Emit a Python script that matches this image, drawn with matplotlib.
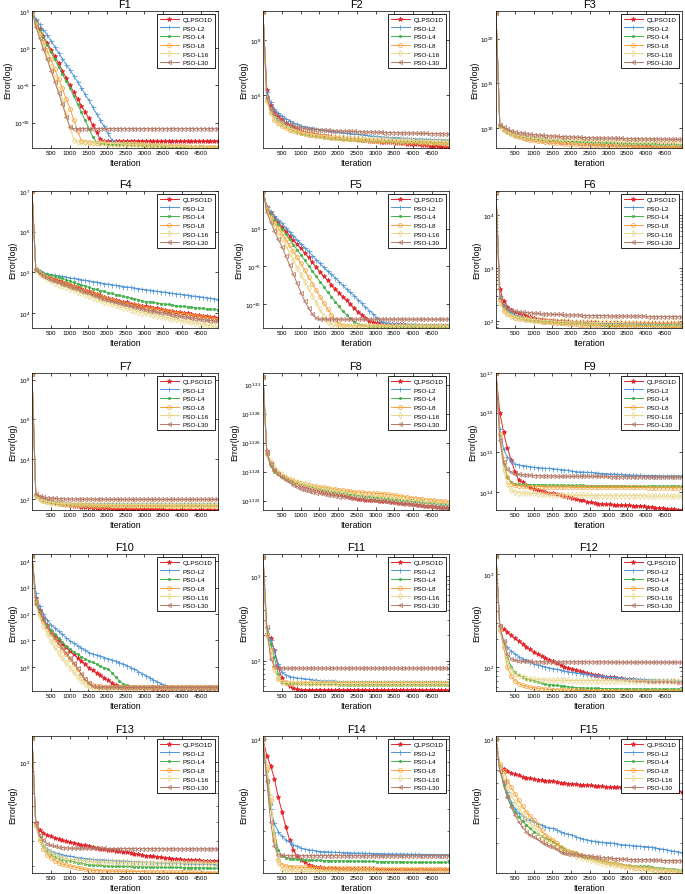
import numpy as np
import matplotlib
matplotlib.use('Agg')
import matplotlib.pyplot as plt
from matplotlib.ticker import NullLocator, LogLocator, NullFormatter

plt.rcParams['font.family'] = ['Liberation Sans', 'DejaVu Sans']
plt.rcParams['mathtext.fontset'] = 'custom'
plt.rcParams['mathtext.rm'] = 'Liberation Sans'
plt.rcParams['mathtext.it'] = 'Liberation Sans:italic'
plt.rcParams['mathtext.bf'] = 'Liberation Sans:bold'

ITERATIONS = np.linspace(0, 4960, 50)
X_TICKS = [500, 1000, 1500, 2000, 2500, 3000, 3500, 4000, 4500]
ALGORITHMS = ['QLPSO1D', 'PSO-L2', 'PSO-L4', 'PSO-L8', 'PSO-L16', 'PSO-L30']

# ---- all values are log10(error), one value per 100 iterations ----
F1_QLPSO1D = [5.0, 3.6, 2.6, 1.6, 0.7, -0.2, -1.1, -2.0, -3.0, -4.0,
              -5.0, -5.9, -6.8, -7.7, -8.6, -9.4, -10.3, -11.3, -12.2, -12.5] + [-12.5] * 30
F1_L2 = [5.0, 3.9, 3.2, 2.5, 1.8, 1.0, 0.2, -0.6, -1.4, -2.2,
         -2.9, -3.7, -4.5, -5.3, -6.2, -7.0, -7.9, -8.8, -9.6, -10.5,
         -11.4, -12.3, -12.6, -12.7, -12.7, -12.8, -12.8, -12.9, -12.9, -12.9,
         -13.0, -13.0, -13.0, -13.0, -13.1, -13.1, -13.1, -13.1, -13.2, -13.2,
         -13.2, -13.2, -13.2, -13.3, -13.3, -13.3, -13.3, -13.3, -13.4, -13.4]
F1_L4 = [5.0, 3.5, 2.5, 1.5, 0.5, -0.5, -1.5, -2.5, -3.5, -4.4,
         -5.4, -6.4, -7.5, -8.6, -9.7, -10.8, -11.9, -12.6, -12.7, -12.7,
         -12.8, -12.8, -12.8, -12.8, -12.9, -12.9, -12.9, -12.9, -13.0, -13.0,
         -13.0, -13.0, -13.0, -13.1, -13.1, -13.1, -13.1, -13.1, -13.2, -13.2,
         -13.2, -13.2, -13.2, -13.2, -13.3, -13.3, -13.3, -13.3, -13.3, -13.3]
F1_L8 = [5.0, 3.3, 2.1, 0.9, -0.3, -1.5, -2.8, -4.1, -5.4, -6.8,
         -8.1, -9.6, -11.1, -12.4, -12.6, -12.6, -12.7, -12.7, -12.7, -12.7,
         -12.8, -12.8, -12.8, -12.8, -12.8, -12.9, -12.9, -12.9, -12.9, -12.9,
         -13.0, -13.0, -13.0, -13.0, -13.0, -13.1, -13.1, -13.1, -13.1, -13.1,
         -13.1, -13.2, -13.2, -13.2, -13.2, -13.2, -13.2, -13.3, -13.3, -13.3]
F1_L16 = [5.0, 3.1, 1.7, 0.3, -1.1, -2.5, -4.0, -5.5, -7.1, -8.8,
          -10.6, -12.3, -12.6, -12.6, -12.6, -12.7, -12.7, -12.7, -12.7, -12.7,
          -12.8, -12.8, -12.8, -12.8, -12.9, -12.9, -12.9, -12.9, -13.0, -13.0,
          -13.0, -13.0, -13.1, -13.1, -13.1, -13.1, -13.2, -13.2, -13.2, -13.2,
          -13.2, -13.3, -13.3, -13.3, -13.3, -13.3, -13.4, -13.4, -13.4, -13.4]
F1_L30 = [5.0, 2.9, 1.4, -0.1, -1.5, -3.0, -4.5, -6.0, -7.5, -9.2,
          -10.6] + [-10.8] * 39

F2_QLPSO1D = [9.0, 6.2, 5.65, 5.4, 5.25, 5.12, 5.0, 4.92, 4.85, 4.77,
              4.7, 4.67, 4.64, 4.61, 4.58, 4.56, 4.54, 4.51, 4.49, 4.47,
              4.45, 4.44, 4.43, 4.41, 4.4, 4.39, 4.37, 4.36, 4.35, 4.33,
              4.32, 4.31, 4.3, 4.29, 4.28, 4.27, 4.26, 4.25, 4.24, 4.23,
              4.22, 4.21, 4.19, 4.18, 4.17, 4.16, 4.14, 4.13, 4.12, 4.1]
F2_L2 = [9.0, 6.1, 5.75, 5.5, 5.35, 5.25, 5.15, 5.07, 5.0, 4.94,
         4.89, 4.85, 4.82, 4.79, 4.76, 4.74, 4.72, 4.7, 4.68, 4.66,
         4.65, 4.63, 4.61, 4.6, 4.58, 4.57, 4.55, 4.54, 4.52, 4.51,
         4.5, 4.49, 4.48, 4.47, 4.46, 4.46, 4.45, 4.44, 4.43, 4.43,
         4.42, 4.41, 4.41, 4.4, 4.4, 4.39, 4.39, 4.38, 4.38, 4.37]
F2_L4 = [9.0, 5.9, 5.45, 5.2, 5.05, 4.95, 4.87, 4.8, 4.73, 4.66,
         4.6, 4.57, 4.54, 4.52, 4.5, 4.48, 4.46, 4.45, 4.43, 4.42,
         4.41, 4.4, 4.39, 4.38, 4.37, 4.37, 4.36, 4.35, 4.35, 4.34,
         4.34, 4.33, 4.33, 4.32, 4.32, 4.31, 4.31, 4.3, 4.3, 4.3,
         4.29, 4.29, 4.28, 4.28, 4.28, 4.27, 4.27, 4.27, 4.26, 4.26]
F2_L8 = [9.0, 5.8, 5.35, 5.1, 4.97, 4.87, 4.8, 4.74, 4.69, 4.65,
         4.62, 4.59, 4.56, 4.54, 4.52, 4.5, 4.48, 4.47, 4.45, 4.44,
         4.43, 4.42, 4.41, 4.4, 4.39, 4.38, 4.37, 4.37, 4.36, 4.35,
         4.34, 4.34, 4.33, 4.32, 4.32, 4.31, 4.3, 4.3, 4.29, 4.29,
         4.28, 4.28, 4.27, 4.27, 4.26, 4.26, 4.25, 4.25, 4.24, 4.24]
F2_L16 = [9.0, 5.8, 5.4, 5.15, 5.0, 4.92, 4.85, 4.79, 4.74, 4.7,
          4.66, 4.63, 4.6, 4.58, 4.56, 4.54, 4.53, 4.51, 4.5, 4.49,
          4.48, 4.47, 4.46, 4.45, 4.44, 4.44, 4.43, 4.42, 4.42, 4.41,
          4.41, 4.4, 4.4, 4.39, 4.39, 4.38, 4.38, 4.37, 4.37, 4.36,
          4.36, 4.35, 4.35, 4.35, 4.34, 4.34, 4.33, 4.33, 4.33, 4.32]
F2_L30 = [9.0, 5.9, 5.5, 5.3, 5.17, 5.07, 5.0, 4.94, 4.89, 4.85,
          4.81, 4.79, 4.77, 4.76, 4.75, 4.74, 4.73, 4.72, 4.71, 4.7,
          4.7, 4.69, 4.69, 4.68, 4.68, 4.67, 4.67, 4.66, 4.66, 4.66,
          4.65, 4.65, 4.64, 4.64, 4.64, 4.63, 4.63, 4.63, 4.62, 4.62,
          4.62, 4.61, 4.61, 4.61, 4.6, 4.6, 4.6, 4.6, 4.59, 4.59]

F3_QLPSO1D = [22.9, 10.4, 9.95, 9.65, 9.45, 9.28, 9.15, 9.04, 8.95, 8.88,
              8.81, 8.75, 8.7, 8.66, 8.62, 8.58, 8.55, 8.52, 8.49, 8.46,
              8.44, 8.42, 8.4, 8.38, 8.36, 8.34, 8.32, 8.31, 8.29, 8.28,
              8.26, 8.25, 8.24, 8.22, 8.21, 8.2, 8.19, 8.18, 8.17, 8.16,
              8.15, 8.14, 8.13, 8.12, 8.11, 8.1, 8.09, 8.08, 8.07, 8.06]
F3_L2 = [22.9, 10.3, 9.95, 9.7, 9.5, 9.35, 9.22, 9.12, 9.03, 8.96,
         8.9, 8.84, 8.79, 8.75, 8.71, 8.67, 8.64, 8.61, 8.58, 8.55,
         8.52, 8.5, 8.47, 8.45, 8.43, 8.41, 8.39, 8.37, 8.35, 8.34,
         8.32, 8.31, 8.29, 8.28, 8.26, 8.25, 8.24, 8.23, 8.22, 8.21,
         8.2, 8.19, 8.18, 8.17, 8.16, 8.15, 8.14, 8.13, 8.12, 8.11]
F3_L4 = [22.9, 10.3, 9.9, 9.62, 9.42, 9.27, 9.15, 9.05, 8.97, 8.9,
         8.84, 8.79, 8.75, 8.71, 8.67, 8.64, 8.61, 8.58, 8.55, 8.53,
         8.5, 8.48, 8.46, 8.44, 8.42, 8.4, 8.39, 8.37, 8.36, 8.34,
         8.33, 8.32, 8.3, 8.29, 8.28, 8.27, 8.26, 8.25, 8.24, 8.23,
         8.22, 8.21, 8.2, 8.19, 8.19, 8.18, 8.17, 8.16, 8.16, 8.15]
F3_L8 = [22.9, 10.3, 9.85, 9.55, 9.32, 9.15, 9.01, 8.9, 8.8, 8.72,
         8.65, 8.59, 8.53, 8.48, 8.44, 8.4, 8.36, 8.33, 8.3, 8.27,
         8.24, 8.22, 8.19, 8.17, 8.15, 8.13, 8.11, 8.1, 8.08, 8.06,
         8.05, 8.03, 8.02, 8.01, 7.99, 7.98, 7.97, 7.96, 7.95, 7.94,
         7.93, 7.92, 7.91, 7.9, 7.9, 7.89, 7.88, 7.87, 7.86, 7.85]
F3_L16 = [22.9, 10.3, 9.9, 9.65, 9.45, 9.3, 9.18, 9.08, 9.0, 8.94,
          8.88, 8.84, 8.8, 8.77, 8.74, 8.72, 8.7, 8.68, 8.66, 8.64,
          8.63, 8.61, 8.6, 8.59, 8.58, 8.56, 8.55, 8.54, 8.53, 8.52,
          8.51, 8.5, 8.49, 8.48, 8.47, 8.46, 8.46, 8.45, 8.44, 8.43,
          8.42, 8.42, 8.41, 8.4, 8.4, 8.39, 8.38, 8.38, 8.37, 8.37]
F3_L30 = [22.9, 10.4, 10.1, 9.9, 9.75, 9.62, 9.52, 9.45, 9.38, 9.33,
          9.28, 9.24, 9.2, 9.17, 9.14, 9.12, 9.1, 9.08, 9.06, 9.04,
          9.02, 9.0, 8.99, 8.97, 8.96, 8.95, 8.93, 8.92, 8.91, 8.9,
          8.89, 8.88, 8.87, 8.86, 8.85, 8.84, 8.84, 8.83, 8.82, 8.81,
          8.81, 8.8, 8.79, 8.79, 8.78, 8.77, 8.77, 8.76, 8.76, 8.75]

F4_QLPSO1D = [7.0, 5.07, 5.0, 4.95, 4.9, 4.86, 4.83, 4.79, 4.76, 4.73,
              4.7, 4.67, 4.63, 4.6, 4.57, 4.54, 4.5, 4.47, 4.44, 4.4,
              4.37, 4.35, 4.32, 4.3, 4.28, 4.26, 4.23, 4.21, 4.19, 4.18,
              4.16, 4.14, 4.12, 4.11, 4.09, 4.08, 4.06, 4.05, 4.03, 4.02,
              4.0, 3.99, 3.97, 3.96, 3.95, 3.93, 3.92, 3.91, 3.89, 3.88]
F4_L2 = [7.0, 5.07, 5.02, 4.99, 4.96, 4.94, 4.93, 4.91, 4.9, 4.88,
         4.86, 4.85, 4.83, 4.82, 4.8, 4.79, 4.77, 4.76, 4.74, 4.72,
         4.71, 4.7, 4.68, 4.67, 4.65, 4.64, 4.63, 4.61, 4.6, 4.58,
         4.57, 4.56, 4.55, 4.53, 4.52, 4.51, 4.5, 4.48, 4.47, 4.46,
         4.45, 4.44, 4.42, 4.41, 4.4, 4.39, 4.37, 4.36, 4.35, 4.33]
F4_L4 = [7.0, 5.07, 5.02, 4.98, 4.95, 4.93, 4.91, 4.88, 4.85, 4.82,
         4.78, 4.75, 4.72, 4.69, 4.66, 4.63, 4.6, 4.58, 4.55, 4.53,
         4.5, 4.48, 4.45, 4.43, 4.41, 4.39, 4.37, 4.35, 4.33, 4.3,
         4.28, 4.27, 4.26, 4.24, 4.23, 4.22, 4.21, 4.19, 4.18, 4.17,
         4.16, 4.15, 4.14, 4.13, 4.12, 4.11, 4.1, 4.1, 4.09, 4.08]
F4_L8 = [7.0, 5.07, 4.99, 4.94, 4.89, 4.85, 4.81, 4.78, 4.74, 4.71,
         4.68, 4.65, 4.61, 4.58, 4.55, 4.51, 4.48, 4.45, 4.42, 4.38,
         4.35, 4.33, 4.3, 4.28, 4.25, 4.23, 4.21, 4.19, 4.17, 4.15,
         4.13, 4.12, 4.1, 4.08, 4.07, 4.05, 4.04, 4.02, 4.01, 3.99,
         3.98, 3.96, 3.95, 3.93, 3.92, 3.9, 3.89, 3.87, 3.86, 3.84]
F4_L16 = [7.0, 5.05, 4.96, 4.9, 4.84, 4.78, 4.74, 4.7, 4.66, 4.63,
          4.6, 4.56, 4.52, 4.49, 4.45, 4.42, 4.38, 4.35, 4.31, 4.28,
          4.25, 4.22, 4.19, 4.16, 4.13, 4.11, 4.08, 4.06, 4.03, 4.01,
          3.99, 3.97, 3.95, 3.93, 3.91, 3.89, 3.87, 3.85, 3.84, 3.82,
          3.8, 3.79, 3.77, 3.75, 3.74, 3.72, 3.7, 3.69, 3.67, 3.65]
F4_L30 = [7.0, 5.06, 4.98, 4.92, 4.87, 4.82, 4.78, 4.75, 4.71, 4.68,
          4.65, 4.61, 4.58, 4.55, 4.51, 4.48, 4.45, 4.41, 4.38, 4.35,
          4.32, 4.29, 4.27, 4.24, 4.22, 4.19, 4.17, 4.15, 4.12, 4.1,
          4.08, 4.06, 4.04, 4.02, 4.0, 3.99, 3.97, 3.95, 3.93, 3.92,
          3.9, 3.89, 3.87, 3.86, 3.84, 3.83, 3.82, 3.81, 3.8, 3.79]

F5_QLPSO1D = [5.0, 2.9, 2.1, 1.5, 0.9, 0.26, -0.3, -0.9, -1.5, -2.05,
              -2.6, -3.2, -3.8, -4.45, -5.1, -5.7, -6.3, -6.85, -7.4, -7.95,
              -8.5, -9.0, -9.5, -10.0, -10.5, -11.0, -11.4, -11.8, -12.2, -12.4,
              -12.5, -12.55, -12.6, -12.6, -12.6, -12.65, -12.65, -12.65, -12.7, -12.7] + [-12.7] * 10
F5_L2 = [5.0, 2.9, 2.3, 1.75, 1.2, 0.7, 0.15, -0.4, -0.95, -1.5,
         -2.0, -2.5, -3.0, -3.55, -4.1, -4.6, -5.1, -5.6, -6.05, -6.5,
         -7.0, -7.5, -8.0, -8.45, -8.9, -9.4, -9.9, -10.4, -10.85, -11.3,
         -11.8, -12.3, -12.45, -12.5, -12.55, -12.6, -12.6, -12.6, -12.65, -12.65,
         -12.65, -12.7, -12.7, -12.7, -12.7, -12.7, -12.7, -12.7, -12.7, -12.7]
F5_L4 = [5.0, 2.8, 1.9, 1.2, 0.6, 0.0, -0.7, -1.4, -2.1, -2.8,
         -3.5, -4.2, -4.9, -5.6, -6.3, -7.0, -7.7, -8.4, -9.0, -9.65,
         -10.3, -10.9, -11.4, -11.9, -12.3, -12.6, -12.75, -12.8, -12.85, -12.9] + [-12.9] * 20
F5_L8 = [5.0, 2.6, 1.6, 0.8, 0.1, -0.6, -1.4, -2.2, -3.0, -3.8,
         -4.6, -5.5, -6.4, -7.3, -8.15, -9.0, -9.8, -10.6, -11.4, -12.1,
         -12.6, -12.8, -12.85] + [-12.9] * 27
F5_L16 = [5.0, 2.5, 1.3, 0.3, -0.5, -1.3, -2.2, -3.2, -4.2, -5.15,
          -6.1, -7.0, -7.9, -8.9, -9.8, -10.7, -11.6, -12.3, -12.7, -12.85] + [-12.9] * 30
F5_L30 = [5.0, 2.2, 0.9, -0.3, -1.4, -2.4, -3.6, -4.8, -6.0, -7.25,
          -8.5, -9.6, -10.5, -11.3, -11.8] + [-12.0] * 35

F6_QLPSO1D = [4.44, 2.62, 2.38, 2.28, 2.22, 2.18, 2.15, 2.12, 2.1, 2.08,
              2.06, 2.05, 2.04, 2.03, 2.02, 2.02, 2.01, 2.01, 2.0, 2.0,
              1.99, 1.99, 1.99, 1.98, 1.98, 1.98, 1.98, 1.97, 1.97, 1.97,
              1.97, 1.97, 1.97] + [1.96] * 17
F6_L2 = [4.44, 2.48, 2.3, 2.22, 2.17, 2.12, 2.1, 2.08, 2.06, 2.04,
         2.03, 2.02, 2.01, 2.0, 2.0, 1.99, 1.99, 1.98, 1.98, 1.98,
         1.97, 1.97, 1.97, 1.97, 1.96, 1.96, 1.96, 1.96, 1.96, 1.95,
         1.95, 1.95, 1.95, 1.95, 1.95, 1.95, 1.95] + [1.94] * 13
F6_L4 = [4.44, 2.45, 2.27, 2.19, 2.14, 2.1, 2.08, 2.06, 2.04, 2.03,
         2.02, 2.01, 2.0, 1.99, 1.99, 1.98, 1.98, 1.97, 1.97, 1.97,
         1.96, 1.96, 1.96, 1.95, 1.95, 1.95, 1.95, 1.95, 1.94, 1.94,
         1.94, 1.94, 1.94, 1.94, 1.94] + [1.93] * 15
F6_L8 = [4.44, 2.4, 2.2, 2.14, 2.1, 2.07, 2.05, 2.04, 2.03, 2.02,
         2.01, 2.0, 1.99, 1.98, 1.98, 1.97, 1.97, 1.96, 1.96, 1.95,
         1.95, 1.95, 1.94, 1.94, 1.94, 1.93, 1.93, 1.93, 1.92, 1.92,
         1.92, 1.92, 1.91, 1.91, 1.91, 1.91, 1.91, 1.9, 1.9, 1.9,
         1.9, 1.9, 1.9, 1.9, 1.89, 1.89, 1.89, 1.89, 1.89, 1.89]
F6_L16 = [4.46, 2.35, 2.22, 2.15, 2.11, 2.09, 2.07, 2.06, 2.05, 2.04,
          2.03, 2.03, 2.02, 2.02, 2.01, 2.01, 2.0, 2.0, 2.0, 2.0,
          1.99, 1.99, 1.99, 1.99, 1.99, 1.98, 1.98, 1.98, 1.98, 1.98,
          1.98, 1.98, 1.98, 1.98] + [1.97] * 16
F6_L30 = [4.42, 2.45, 2.3, 2.24, 2.21, 2.19, 2.18, 2.17, 2.16, 2.16,
          2.15, 2.15, 2.14, 2.14, 2.14, 2.13, 2.13, 2.13, 2.12, 2.12,
          2.12, 2.12, 2.12, 2.11, 2.11, 2.11, 2.11, 2.11, 2.11, 2.11,
          2.1, 2.1, 2.1, 2.1, 2.1, 2.1, 2.1, 2.1, 2.1, 2.1] + [2.09] * 10

F7_QLPSO1D = [8.3, 2.2, 2.1, 2.0, 1.95, 1.9, 1.85, 1.81, 1.77, 1.73,
              1.7, 1.67, 1.64, 1.62, 1.6, 1.58, 1.57, 1.56, 1.55, 1.54,
              1.53, 1.52, 1.52, 1.51, 1.51, 1.5, 1.5, 1.5, 1.49, 1.49,
              1.49, 1.48, 1.48, 1.48, 1.48, 1.47, 1.47, 1.47, 1.47, 1.47,
              1.47, 1.46, 1.46, 1.46, 1.46, 1.46, 1.46, 1.46, 1.45, 1.45]
F7_L2 = [8.3, 2.2, 2.1, 2.0, 1.93, 1.88, 1.85, 1.83, 1.81, 1.8,
         1.79, 1.78, 1.78, 1.77, 1.77, 1.77, 1.76, 1.76, 1.76, 1.76,
         1.76, 1.76] + [1.75] * 28
F7_L4 = [8.3, 2.2, 2.05, 1.95, 1.88, 1.84, 1.81, 1.79, 1.77, 1.76,
         1.75, 1.74, 1.74, 1.73, 1.73, 1.72, 1.72, 1.72, 1.72, 1.71,
         1.71, 1.71, 1.71, 1.71, 1.71, 1.71, 1.71, 1.71, 1.71, 1.71] + [1.7] * 20
F7_L8 = [8.33, 2.15, 2.0, 1.92, 1.86, 1.82, 1.79, 1.76, 1.74, 1.72,
         1.71, 1.7, 1.69, 1.69, 1.68, 1.68, 1.67, 1.67, 1.67, 1.67] + [1.66] * 20 + [1.65] * 10
F7_L16 = [8.33, 2.15, 2.02, 1.94, 1.88, 1.84, 1.81, 1.79, 1.78, 1.77,
          1.76, 1.75, 1.75, 1.75, 1.74, 1.74, 1.74, 1.74, 1.74, 1.74] + [1.73] * 30
F7_L30 = [8.3, 2.25, 2.15, 2.1, 2.06, 2.04, 2.03, 2.02, 2.01, 2.0,
          2.0, 2.0, 1.99, 1.99, 1.99, 1.99, 1.99, 1.99, 1.99, 1.99] + [1.98] * 30

F8_QLPSO1D = [1.3306, 1.3254, 1.3246, 1.3242, 1.3239, 1.3237, 1.32355, 1.3234, 1.3233, 1.3232,
              1.3231, 1.32302, 1.32294, 1.32287, 1.3228, 1.32274, 1.32268, 1.32262, 1.32256, 1.3225,
              1.32244, 1.32238, 1.32232, 1.32226, 1.3222, 1.32214, 1.3221, 1.32207, 1.32205, 1.32203,
              1.32201, 1.32199, 1.32196, 1.32194, 1.32191, 1.32188, 1.32186, 1.32183, 1.3218, 1.32177,
              1.32174, 1.32172, 1.32169, 1.32166, 1.32163, 1.32161, 1.32158, 1.32156, 1.32154, 1.32152]
F8_L2 = [1.3308, 1.3253, 1.3246, 1.3242, 1.3239, 1.3237, 1.32355, 1.3234, 1.3233, 1.3232,
         1.3231, 1.32303, 1.32296, 1.3229, 1.32284, 1.32278, 1.32273, 1.32268, 1.32263, 1.32258,
         1.32254, 1.3225, 1.32246, 1.32242, 1.32238, 1.32235, 1.32232, 1.32229, 1.32226, 1.32223,
         1.3222, 1.32217, 1.32214, 1.32211, 1.32208, 1.32205, 1.32202, 1.322, 1.32197, 1.32194,
         1.32192, 1.32189, 1.32186, 1.32183, 1.3218, 1.32177, 1.32174, 1.32171, 1.32168, 1.32165]
F8_L4 = [1.3306, 1.3252, 1.3244, 1.324, 1.3238, 1.3236, 1.32352, 1.3234, 1.3233, 1.3232,
         1.32312, 1.32305, 1.32298, 1.32292, 1.32286, 1.32281, 1.32276, 1.32271, 1.32266, 1.32262,
         1.32258, 1.32254, 1.3225, 1.32246, 1.32243, 1.3224, 1.32237, 1.32234, 1.32231, 1.32228,
         1.32225, 1.32222, 1.3222, 1.32217, 1.32214, 1.32212, 1.32209, 1.32207, 1.32204, 1.32202,
         1.322, 1.32197, 1.32195, 1.32192, 1.3219, 1.32187, 1.32184, 1.32181, 1.32178, 1.32175]
F8_L8 = [1.3305, 1.3252, 1.3245, 1.3241, 1.3239, 1.3237, 1.32357, 1.32345, 1.32335, 1.32327,
         1.3232, 1.32314, 1.32308, 1.32303, 1.32299, 1.32295, 1.32291, 1.32287, 1.32283, 1.32278,
         1.32274, 1.3227, 1.32267, 1.32264, 1.32261, 1.32259, 1.32257, 1.32255, 1.32253, 1.32251,
         1.3225, 1.32248, 1.32246, 1.32243, 1.3224, 1.32236, 1.32232, 1.32228, 1.32224, 1.3222,
         1.32216, 1.32213, 1.3221, 1.32207, 1.32205, 1.32202, 1.322, 1.32197, 1.32195, 1.32193]
F8_L16 = [1.3305, 1.3253, 1.3247, 1.3243, 1.324, 1.3238, 1.32365, 1.3235, 1.3234, 1.3233,
          1.3232, 1.32312, 1.32305, 1.32298, 1.32292, 1.32286, 1.3228, 1.32275, 1.3227, 1.32265,
          1.3226, 1.32256, 1.32252, 1.32248, 1.32245, 1.32242, 1.32239, 1.32236, 1.32233, 1.3223,
          1.32227, 1.32224, 1.32222, 1.32219, 1.32216, 1.32213, 1.32211, 1.32208, 1.32205, 1.32203,
          1.322, 1.32198, 1.32196, 1.32194, 1.32192, 1.3219, 1.32188, 1.32186, 1.32184, 1.32182]
F8_L30 = [1.3305, 1.3253, 1.3245, 1.3241, 1.3238, 1.3236, 1.32342, 1.32325, 1.3231, 1.32295,
          1.3228, 1.32273, 1.32266, 1.3226, 1.32255, 1.3225, 1.32245, 1.3224, 1.32236, 1.32232,
          1.32228, 1.32225, 1.32222, 1.32219, 1.32216, 1.32213, 1.3221, 1.32208, 1.32205, 1.32202,
          1.322, 1.32197, 1.32194, 1.32191, 1.32188, 1.32185, 1.32182, 1.32179, 1.32176, 1.32173,
          1.3217, 1.32168, 1.32165, 1.32162, 1.3216, 1.32157, 1.32154, 1.32152, 1.32149, 1.32147]

F9_QLPSO1D = [1.7, 1.6, 1.55, 1.51, 1.48, 1.45, 1.43, 1.425, 1.417, 1.411,
              1.406, 1.404, 1.402, 1.4, 1.398, 1.396, 1.394, 1.392, 1.39, 1.388,
              1.385, 1.383, 1.38, 1.378, 1.375, 1.373, 1.372, 1.37, 1.369, 1.368,
              1.368, 1.367, 1.367, 1.366, 1.366, 1.366, 1.365, 1.365, 1.364, 1.364,
              1.362, 1.361, 1.36, 1.359, 1.358, 1.357, 1.356, 1.356, 1.355, 1.354]
F9_L2 = [1.7, 1.558, 1.508, 1.487, 1.479, 1.47, 1.468, 1.466, 1.465, 1.463,
         1.462, 1.461, 1.46, 1.459, 1.459, 1.458, 1.457, 1.456, 1.455, 1.454,
         1.452, 1.451, 1.45, 1.45, 1.449, 1.449, 1.448, 1.447, 1.446, 1.446,
         1.445, 1.445, 1.444, 1.444, 1.443, 1.443, 1.442, 1.442, 1.442, 1.441,
         1.441, 1.441, 1.441, 1.44, 1.44, 1.44, 1.44, 1.44, 1.44, 1.44]
F9_L4 = [1.7, 1.54, 1.47, 1.437, 1.425, 1.42, 1.419, 1.419, 1.418, 1.418,
         1.418, 1.418, 1.417, 1.417, 1.417, 1.417, 1.417, 1.416, 1.416, 1.416,
         1.416, 1.416, 1.416, 1.416, 1.415, 1.415, 1.415, 1.415, 1.415, 1.415,
         1.415, 1.415, 1.415, 1.415, 1.415] + [1.414] * 15
F9_L8 = [1.7, 1.546, 1.483, 1.437, 1.42, 1.417, 1.415, 1.414, 1.414, 1.413,
         1.413, 1.413, 1.413, 1.412, 1.412, 1.412, 1.412, 1.412, 1.412, 1.412] + [1.411] * 20 + [1.41] * 10
F9_L16 = [1.7, 1.54, 1.454, 1.42, 1.404, 1.4, 1.398, 1.397, 1.397, 1.396,
          1.396, 1.395, 1.395, 1.394, 1.394, 1.393, 1.393, 1.392, 1.392, 1.392,
          1.391, 1.391, 1.391, 1.391, 1.391] + [1.39] * 15 + [1.389] * 10
F9_L30 = [1.7, 1.53, 1.475, 1.458, 1.45, 1.445, 1.444, 1.443, 1.442, 1.442,
          1.441, 1.441, 1.44, 1.44, 1.44, 1.44] + [1.439] * 14 + [1.438] * 10 + [1.437] * 10

F10_QLPSO1D = [4.2, 2.6, 2.16, 1.85, 1.58, 1.35, 1.18, 1.03, 0.88, 0.74,
               0.6, 0.47, 0.35, 0.23, 0.1, -0.03, -0.13, -0.23, -0.32, -0.41,
               -0.5, -0.6, -0.71, -0.77, -0.79, -0.8, -0.81, -0.81, -0.82, -0.82,
               -0.82, -0.82, -0.83, -0.83, -0.83, -0.83, -0.83, -0.83] + [-0.84] * 12
F10_L2 = [4.2, 2.79, 2.29, 2.0, 1.78, 1.6, 1.47, 1.35, 1.23, 1.1,
          0.98, 0.89, 0.8, 0.71, 0.62, 0.54, 0.49, 0.44, 0.4, 0.35,
          0.31, 0.26, 0.2, 0.15, 0.1, 0.04, -0.03, -0.1, -0.18, -0.26,
          -0.34, -0.42, -0.5, -0.57, -0.64, -0.71, -0.78, -0.8, -0.8, -0.8,
          -0.8, -0.8, -0.8, -0.8, -0.81, -0.81, -0.81, -0.81, -0.81, -0.81]
F10_L4 = [4.2, 2.55, 2.1, 1.8, 1.58, 1.41, 1.24, 1.08, 0.93, 0.79,
          0.66, 0.56, 0.47, 0.38, 0.3, 0.23, 0.17, 0.1, 0.03, -0.04,
          -0.09, -0.22, -0.38, -0.53, -0.65, -0.71, -0.75, -0.77] + [-0.78] * 22
F10_L8 = [4.2, 2.5, 2.0, 1.7, 1.45, 1.23, 1.03, 0.84, 0.65, 0.47,
          0.29, 0.1, -0.1, -0.3, -0.48, -0.62, -0.7, -0.73, -0.74] + [-0.75] * 31
F10_L16 = [4.2, 2.4, 1.9, 1.55, 1.26, 0.98, 0.75, 0.53, 0.32, 0.14,
           -0.03, -0.2, -0.37, -0.53, -0.66, -0.78, -0.82, -0.83] + [-0.84] * 32
F10_L30 = [4.2, 2.4, 2.08, 1.78, 1.52, 1.29, 1.1, 0.9, 0.72, 0.53,
           0.35, 0.16, -0.05, -0.27, -0.48, -0.62, -0.72, -0.77] + [-0.78] * 32

F11_QLPSO1D = [3.23, 2.31, 2.27, 2.12, 1.92, 1.79, 1.73, 1.7, 1.67, 1.66,
               1.655] + [1.65] * 39
F11_L2 = [3.23, 2.38, 2.24, 2.12, 1.96, 1.86, 1.83, 1.81, 1.8, 1.79,
          1.79, 1.78, 1.78, 1.77, 1.77, 1.76, 1.76, 1.76, 1.76, 1.76] + [1.75] * 30
F11_L4 = [3.23, 2.35, 2.2, 2.04, 1.84, 1.75, 1.74, 1.735, 1.73, 1.73,
          1.73, 1.73, 1.72, 1.72, 1.72, 1.72, 1.72, 1.72, 1.72, 1.72] + [1.71] * 30
F11_L8 = [3.23, 2.3, 2.12, 1.92, 1.78, 1.75, 1.745] + [1.74] * 43
F11_L16 = [3.23, 2.3, 2.1, 1.9, 1.79, 1.745, 1.74, 1.74, 1.735, 1.735] + [1.73] * 40
F11_L30 = [3.23, 2.4, 2.02, 1.94] + [1.91] * 46

F12_QLPSO1D = [3.2, 2.44, 2.41, 2.38, 2.34, 2.31, 2.28, 2.25, 2.22, 2.19,
               2.16, 2.14, 2.12, 2.1, 2.08, 2.06, 2.04, 2.02, 2.0, 1.99,
               1.975, 1.964, 1.953, 1.942, 1.931, 1.92, 1.914, 1.908, 1.902, 1.896,
               1.89, 1.886, 1.882, 1.878, 1.874, 1.87, 1.866, 1.862, 1.858, 1.854,
               1.85, 1.849, 1.848, 1.847, 1.846, 1.845, 1.844, 1.843, 1.842, 1.84]
F12_L2 = [3.2, 2.44, 2.28, 2.21, 2.17, 2.14, 2.11, 2.09, 2.07, 2.05,
          2.03, 2.02, 2.01, 2.0, 1.99, 1.98, 1.975, 1.965, 1.955, 1.947,
          1.94, 1.935, 1.93, 1.925, 1.92, 1.915, 1.91, 1.905, 1.9, 1.895,
          1.89, 1.887, 1.884, 1.881, 1.878, 1.875, 1.872, 1.87, 1.868, 1.866,
          1.864, 1.862, 1.86, 1.858, 1.856, 1.855, 1.854, 1.853, 1.852, 1.85]
F12_L4 = [3.2, 2.42, 2.25, 2.1, 2.0, 1.94, 1.91, 1.89, 1.87, 1.86,
          1.85, 1.835, 1.825, 1.815, 1.81, 1.805, 1.8, 1.795, 1.79, 1.785,
          1.78, 1.777, 1.775, 1.773, 1.771, 1.77, 1.769, 1.768, 1.767, 1.766,
          1.765, 1.765, 1.764, 1.764, 1.763, 1.763, 1.762, 1.762, 1.762, 1.761,
          1.761, 1.761, 1.761, 1.76, 1.76, 1.76, 1.76, 1.76, 1.76, 1.76]
F12_L8 = [3.2, 2.4, 2.22, 2.0, 1.9, 1.85, 1.82, 1.8, 1.79, 1.78,
          1.775, 1.77, 1.765, 1.76, 1.757, 1.755, 1.753, 1.751, 1.75, 1.749,
          1.748, 1.747, 1.746, 1.746, 1.745, 1.745, 1.744, 1.744, 1.744, 1.743,
          1.743, 1.743, 1.742, 1.742, 1.742, 1.742, 1.741, 1.741, 1.741, 1.741] + [1.74] * 10
F12_L16 = [3.2, 2.42, 2.25, 2.06, 1.97, 1.92, 1.9, 1.89, 1.88, 1.87,
           1.865, 1.862, 1.86, 1.858, 1.857, 1.856, 1.855, 1.855, 1.854, 1.854,
           1.853, 1.853, 1.853, 1.852, 1.852, 1.852, 1.852, 1.851, 1.851, 1.851] + [1.85] * 20
F12_L30 = [3.2, 2.44, 2.28, 2.14, 2.09, 2.07, 2.065, 2.06, 2.06, 2.06] + [2.055] * 20 + [2.05] * 20

F13_QLPSO1D = [3.125, 2.692, 2.658, 2.642, 2.632, 2.625, 2.618, 2.612, 2.605, 2.6,
               2.595, 2.592, 2.588, 2.583, 2.58, 2.578, 2.573, 2.568, 2.563, 2.56,
               2.558, 2.555, 2.552, 2.55, 2.548, 2.545, 2.542, 2.538, 2.535, 2.532,
               2.528, 2.527, 2.525, 2.523, 2.52, 2.517, 2.515, 2.513, 2.512, 2.51,
               2.508, 2.507, 2.507, 2.505, 2.505, 2.503, 2.503, 2.502, 2.502, 2.5]
F13_L2 = [3.125, 2.675, 2.625, 2.583, 2.562, 2.55, 2.543, 2.538, 2.533, 2.528,
          2.525, 2.522, 2.518, 2.517, 2.513, 2.512, 2.51, 2.508, 2.507, 2.507,
          2.505, 2.504, 2.503, 2.502, 2.501, 2.5, 2.499, 2.498, 2.497, 2.496,
          2.495, 2.494, 2.494, 2.493, 2.492, 2.492, 2.491, 2.49, 2.49, 2.489,
          2.488, 2.488, 2.487, 2.487, 2.486, 2.486, 2.485, 2.484, 2.483, 2.482]
F13_L4 = [3.125, 2.683, 2.617, 2.575, 2.55, 2.533, 2.522, 2.513, 2.508, 2.503,
          2.5, 2.497, 2.493, 2.489, 2.485, 2.482, 2.48, 2.479, 2.478, 2.477,
          2.475, 2.475, 2.474, 2.474, 2.473, 2.473, 2.473, 2.472, 2.472, 2.472,
          2.47, 2.47, 2.47, 2.47, 2.469, 2.469, 2.469, 2.469, 2.468, 2.468,
          2.467, 2.467, 2.467, 2.466, 2.466, 2.466, 2.465, 2.465, 2.464, 2.463]
F13_L8 = [3.125, 2.683, 2.608, 2.562, 2.533, 2.517, 2.503, 2.492, 2.485, 2.48,
          2.475, 2.471, 2.467, 2.463, 2.459, 2.455, 2.453, 2.452, 2.451, 2.45,
          2.45, 2.449, 2.449, 2.449, 2.448, 2.448, 2.448, 2.447, 2.447, 2.447,
          2.445, 2.445, 2.445, 2.445, 2.445, 2.444, 2.444, 2.444, 2.444, 2.444,
          2.443, 2.443, 2.443, 2.443, 2.443, 2.442, 2.442, 2.442, 2.442, 2.442]
F13_L16 = [3.125, 2.678, 2.617, 2.578, 2.555, 2.542, 2.53, 2.522, 2.515, 2.512,
           2.508, 2.507, 2.505, 2.503, 2.502, 2.5, 2.499, 2.498, 2.497, 2.496,
           2.495, 2.495, 2.494, 2.494, 2.494, 2.493, 2.493, 2.493, 2.492, 2.492,
           2.492, 2.492, 2.491, 2.491, 2.491, 2.491, 2.491, 2.49, 2.49, 2.49,
           2.49, 2.49, 2.49, 2.489, 2.489, 2.489, 2.489, 2.489, 2.488, 2.488]
F13_L30 = [3.125, 2.692, 2.633, 2.605, 2.588, 2.58, 2.575, 2.572, 2.568, 2.567] + \
          [2.565] * 10 + [2.563] * 15 + [2.562] * 15

F14_QLPSO1D = [4.0, 3.929, 3.886, 3.829, 3.75, 3.686, 3.621, 3.564, 3.521, 3.493,
               3.479, 3.467, 3.457, 3.453, 3.449, 3.446, 3.444, 3.443, 3.441, 3.441,
               3.44, 3.44, 3.439, 3.439, 3.439, 3.438, 3.438, 3.438, 3.437, 3.437,
               3.437, 3.436, 3.436, 3.436, 3.436, 3.435, 3.435, 3.435, 3.435, 3.434,
               3.434, 3.434, 3.434, 3.434, 3.433, 3.433, 3.433, 3.433, 3.433, 3.433]
F14_L2 = [4.0, 3.821, 3.7, 3.636, 3.6, 3.579, 3.564, 3.554, 3.543, 3.536,
          3.529, 3.524, 3.521, 3.519, 3.517, 3.514, 3.513, 3.513, 3.511, 3.51,
          3.51, 3.509, 3.509, 3.508, 3.508, 3.507, 3.507, 3.506, 3.506, 3.505,
          3.505, 3.505, 3.504, 3.504, 3.504, 3.503, 3.503, 3.503, 3.502, 3.502,
          3.502, 3.502, 3.501, 3.501, 3.501, 3.501, 3.5, 3.5, 3.5, 3.5]
F14_L4 = [4.0, 3.864, 3.721, 3.593, 3.521, 3.496, 3.487, 3.483, 3.481, 3.48,
          3.479, 3.478, 3.477, 3.477, 3.476, 3.476, 3.475, 3.475, 3.474, 3.474,
          3.474, 3.473, 3.473, 3.473, 3.472, 3.472, 3.472, 3.471, 3.471, 3.471,
          3.47, 3.47, 3.47, 3.47, 3.469, 3.469, 3.469, 3.469, 3.468, 3.468] + [3.467] * 10
F14_L8 = [4.0, 3.871, 3.736, 3.564, 3.479, 3.457, 3.451, 3.449, 3.447, 3.446,
          3.446, 3.445, 3.445, 3.445, 3.444, 3.444, 3.444, 3.443, 3.443, 3.443,
          3.443, 3.442, 3.442, 3.442, 3.442, 3.441, 3.441, 3.441, 3.441, 3.441] + \
         [3.44] * 13 + [3.439] * 7
F14_L16 = [4.0, 3.879, 3.75, 3.579, 3.464, 3.439, 3.433, 3.43, 3.429, 3.429] + [3.428] * 20 + [3.427] * 20
F14_L30 = [4.0, 3.821, 3.643, 3.536, 3.5, 3.497] + [3.496] * 44

F15_QLPSO1D = [4.0, 3.867, 3.85, 3.838, 3.83, 3.825, 3.818, 3.812, 3.807, 3.803,
               3.8, 3.797, 3.793, 3.792, 3.79, 3.788, 3.785, 3.782, 3.778, 3.777,
               3.775, 3.773, 3.772, 3.77, 3.768, 3.767, 3.765, 3.763, 3.762, 3.76,
               3.758, 3.758, 3.757, 3.757, 3.755, 3.755, 3.753, 3.753, 3.752, 3.752,
               3.75, 3.748, 3.747, 3.745, 3.743, 3.742, 3.74, 3.738, 3.737, 3.733]
F15_L2 = [4.0, 3.858, 3.783, 3.733, 3.683, 3.65, 3.628, 3.612, 3.6, 3.592,
          3.583, 3.575, 3.567, 3.558, 3.553, 3.55, 3.542, 3.533, 3.525, 3.52,
          3.517, 3.508, 3.5, 3.495, 3.492, 3.488, 3.485, 3.482, 3.48, 3.478,
          3.478, 3.475, 3.472, 3.468, 3.467, 3.465, 3.463, 3.462, 3.46, 3.458,
          3.458, 3.455, 3.452, 3.448, 3.445, 3.442, 3.438, 3.435, 3.432, 3.428]
F15_L4 = [4.0, 3.858, 3.767, 3.708, 3.667, 3.633, 3.608, 3.587, 3.567, 3.55,
          3.533, 3.522, 3.512, 3.5, 3.492, 3.483, 3.472, 3.458, 3.447, 3.438,
          3.433, 3.425, 3.417, 3.408, 3.403, 3.4, 3.395, 3.39, 3.385, 3.382,
          3.378, 3.375, 3.372, 3.368, 3.365, 3.363, 3.362, 3.36, 3.358, 3.358,
          3.358, 3.355, 3.352, 3.35, 3.348, 3.347, 3.345, 3.343, 3.342, 3.338]
F15_L8 = [4.0, 3.875, 3.842, 3.792, 3.758, 3.725, 3.692, 3.662, 3.633, 3.612,
          3.592, 3.567, 3.542, 3.517, 3.5, 3.492, 3.475, 3.458, 3.445, 3.438,
          3.433, 3.425, 3.417, 3.412, 3.408, 3.403, 3.398, 3.393, 3.388, 3.383,
          3.378, 3.373, 3.368, 3.365, 3.362, 3.358, 3.355, 3.352, 3.35, 3.35,
          3.348, 3.345, 3.342, 3.338, 3.337, 3.335, 3.333, 3.332, 3.328, 3.325]
F15_L16 = [4.0, 3.867, 3.808, 3.758, 3.717, 3.683, 3.655, 3.625, 3.6, 3.575,
           3.558, 3.533, 3.508, 3.488, 3.475, 3.462, 3.45, 3.438, 3.43, 3.425,
           3.42, 3.412, 3.405, 3.4, 3.395, 3.392, 3.387, 3.382, 3.377, 3.372,
           3.37, 3.367, 3.363, 3.36, 3.357, 3.353, 3.35, 3.348, 3.347, 3.345,
           3.343, 3.342, 3.34, 3.34, 3.338, 3.338, 3.337, 3.335, 3.335, 3.333]
F15_L30 = [4.0, 3.842, 3.783, 3.708, 3.658, 3.617, 3.583, 3.555, 3.533, 3.517,
           3.508, 3.495, 3.482, 3.47, 3.462, 3.458, 3.445, 3.433, 3.425, 3.42,
           3.42, 3.417, 3.415, 3.413, 3.412, 3.41, 3.408, 3.405, 3.403, 3.4,
           3.4, 3.398, 3.397, 3.395, 3.395, 3.393, 3.393, 3.392, 3.392, 3.392,
           3.392, 3.39, 3.39, 3.39, 3.388, 3.388, 3.388, 3.387, 3.387, 3.387]

# panel: title, series (ALGORITHMS order), log10 y-limits, tick exponents, minor ticks
PANELS = [
    ('F1', [F1_QLPSO1D, F1_L2, F1_L4, F1_L8, F1_L16, F1_L30], (-13.4, 5.0), [5, 0, -5, -10], False),
    ('F2', [F2_QLPSO1D, F2_L2, F2_L4, F2_L8, F2_L16, F2_L30], (4.08, 9.05), [8, 6], False),
    ('F3', [F3_QLPSO1D, F3_L2, F3_L4, F3_L8, F3_L16, F3_L30], (7.8, 23.07), [20, 15, 10], False),
    ('F4', [F4_QLPSO1D, F4_L2, F4_L4, F4_L8, F4_L16, F4_L30], (3.63, 7.0), [7, 6, 5, 4], False),
    ('F5', [F5_QLPSO1D, F5_L2, F5_L4, F5_L8, F5_L16, F5_L30], (-13.16, 5.0), [0, -5, -10], False),
    ('F6', [F6_QLPSO1D, F6_L2, F6_L4, F6_L8, F6_L16, F6_L30], (1.875, 4.46), [4, 3, 2], True),
    ('F7', [F7_QLPSO1D, F7_L2, F7_L4, F7_L8, F7_L16, F7_L30], (1.45, 8.33), [8, 6, 4, 2], False),
    ('F8', [F8_QLPSO1D, F8_L2, F8_L4, F8_L8, F8_L16, F8_L30], (1.32135, 1.3308),
     [1.33, 1.328, 1.326, 1.324, 1.322], False),
    ('F9', [F9_QLPSO1D, F9_L2, F9_L4, F9_L8, F9_L16, F9_L30], (1.354, 1.7), [1.7, 1.6, 1.5, 1.4], False),
    ('F10', [F10_QLPSO1D, F10_L2, F10_L4, F10_L8, F10_L16, F10_L30], (-0.92, 4.28), [4, 3, 2, 1, 0], False),
    ('F11', [F11_QLPSO1D, F11_L2, F11_L4, F11_L8, F11_L16, F11_L30], (1.64, 3.26), [3, 2], True),
    ('F12', [F12_QLPSO1D, F12_L2, F12_L4, F12_L8, F12_L16, F12_L30], (1.74, 3.22), [3, 2], True),
    ('F13', [F13_QLPSO1D, F13_L2, F13_L4, F13_L8, F13_L16, F13_L30], (2.44, 3.133), [3], True),
    ('F14', [F14_QLPSO1D, F14_L2, F14_L4, F14_L8, F14_L16, F14_L30], (3.421, 4.014), [4], True),
    ('F15', [F15_QLPSO1D, F15_L2, F15_L4, F15_L8, F15_L16, F15_L30], (3.325, 4.017), [4], True),
]

STYLES = [
    dict(color='#e3242b', marker='*', ms=3.4, mfc='#e3242b'),
    dict(color='#4f95d6', marker='+', ms=3.6),
    dict(color='#43b04a', marker='.', ms=3.2),
    dict(color='#f6a13a', marker='o', ms=2.8, mfc='none'),
    dict(color='#e9d68a', marker='d', ms=3.2, mfc='none'),
    dict(color='#b57966', marker='<', ms=3.0, mfc='none'),
]

W, H = 685, 895
fig = plt.figure(figsize=(W / 100, H / 100), dpi=100)
COL_LEFT = [32, 263, 496]
ROW_TOP = [12, 192, 374, 555, 737]
AX_W, AX_H = 186, 137

for k, (title, series, (ylo, yhi), exps, minor) in enumerate(PANELS):
    r, c = divmod(k, 3)
    ax = fig.add_axes([COL_LEFT[c] / W, 1 - (ROW_TOP[r] + AX_H) / H, AX_W / W, AX_H / H])
    for name, vals, st in zip(ALGORITHMS, series, STYLES):
        ax.semilogy(ITERATIONS, np.power(10.0, np.array(vals, dtype=float)),
                    label=name, lw=0.7, mew=0.55, **st)
    ax.set_xlim(0, 4960)
    ax.set_ylim(10.0 ** ylo, 10.0 ** yhi)
    ax.set_xticks(X_TICKS)
    ax.set_xticklabels([str(t) for t in X_TICKS])
    ax.set_yticks([10.0 ** e for e in exps])
    ax.set_yticklabels(['$10^{%s}$' % format(e, 'g') for e in exps])
    if minor:
        ax.yaxis.set_minor_locator(LogLocator(base=10, subs=np.arange(2, 10), numticks=50))
        ax.yaxis.set_minor_formatter(NullFormatter())
    else:
        ax.yaxis.set_minor_locator(NullLocator())
    ax.tick_params(which='major', direction='in', length=2, width=0.5, labelsize=4.5, pad=1.5,
                   top=True, right=True)
    ax.tick_params(which='minor', direction='in', length=1.2, width=0.4, left=True, right=True)
    for sp in ax.spines.values():
        sp.set_linewidth(0.5)
    ax.set_title(title, fontsize=7.8, pad=3)
    ax.set_xlabel('Iteration', fontsize=6.3, labelpad=2)
    ax.set_ylabel('Error(log)', fontsize=6.3, labelpad=1)
    leg = ax.legend(loc='upper right', fontsize=4.6, frameon=True, fancybox=False,
                    edgecolor='black', framealpha=1, handlelength=3.0, handletextpad=0.6,
                    borderpad=0.4, labelspacing=0.5, borderaxespad=0.45)
    leg.get_frame().set_linewidth(0.6)

fig.savefig('out.png', dpi=100)
